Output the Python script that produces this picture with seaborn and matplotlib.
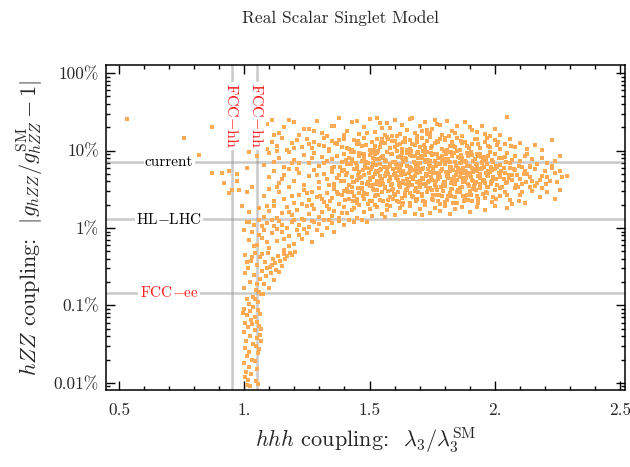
import matplotlib
matplotlib.use("Agg")
import matplotlib.pyplot as plt
import matplotlib.ticker as mticker
import seaborn as sns
import pandas as pd

# ---------------- data (x = lambda3/lambda3_SM, y = |g/g_SM - 1| in percent) ----------------
outliers = [(0.53,25.5),(0.76,14.6),(0.87,20.3),(0.82,8.7),(0.87,5.2),(0.91,5.2),(0.94,5.4),
            (0.97,5.0),(0.92,3.8),(0.97,4.1),(0.95,3.1),(0.94,2.8),(0.98,3.1),(1.01,2.9),
            (0.99,1.9),(1.02,1.6),(1.02,1.2),(1.0,0.94),(1.03,3.4),(1.01,6.0),(1.02,9.5)]

band_a = [(1.09,22),(1.14,17),(1.18,25),(1.22,16),(1.26,19),(1.29,24),(1.33,15.5),(1.36,21),(1.38,26),(1.41,18),
          (1.43,23),(1.46,16.5),(1.48,20),(1.50,25.5),(1.52,17.5),(1.54,22.5),(1.56,15.8),(1.58,19.5),(1.60,24.5),(1.62,16.2),
          (1.63,21.5),(1.65,18.5),(1.67,26.5),(1.69,15.3),(1.70,20.5),(1.72,23.5),(1.74,17),(1.75,19),(1.77,22),(1.79,16),
          (1.81,24),(1.83,18),(1.85,21),(1.87,15.6),(1.90,20),(1.93,17.2),(1.96,16.4),(2.00,19),(2.05,27),
          (1.12,15.9),(1.24,18.8),(1.31,16.7),(1.45,23.8),(1.55,19.7),(1.61,15.4),(1.66,25.2),(1.71,17.8),(1.78,21.2),
          (1.84,16.6),(1.91,18.2),(1.98,15.2),(1.35,20.8),(1.49,16.9),(1.57,22.8),(1.73,18.4),
          (1.06,17.5),(1.11,25),(1.16,20),(1.20,23),(1.28,18),(1.40,16),(1.53,26),(1.68,16.8),(1.76,25),(1.88,23),
          (1.95,21),(2.02,16)]

band_b = [(1.04,12),(1.07,14),(1.09,10.5),(1.11,13),(1.13,11.5),(1.15,14.5),(1.17,10.2),(1.19,12.5),(1.21,13.8),(1.23,11),
          (1.25,14.2),(1.27,10.8),(1.28,12.8),(1.30,11.8),(1.32,14.7),(1.34,10.4),(1.35,13.3),(1.37,12.1),(1.39,11.2),(1.40,14),
          (1.42,10.6),(1.44,13.6),(1.45,12.3),(1.47,11.4),(1.48,14.4),(1.50,10.1),(1.51,12.9),(1.53,13.9),(1.54,11.1),(1.56,12.6),
          (1.57,14.8),(1.58,10.7),(1.60,13.1),(1.61,11.7),(1.62,12.2),(1.64,14.3),(1.65,10.3),(1.66,13.5),(1.68,11.9),(1.69,12.7),
          (1.71,14.6),(1.72,10.9),(1.73,13.2),(1.75,11.3),(1.76,12.4),(1.78,14.1),(1.79,10.5),(1.80,13.7),(1.82,11.6),(1.83,12.8),
          (1.85,14.5),(1.86,10.2),(1.88,13),(1.89,11.5),(1.91,12.1),(1.93,14.2),(1.94,10.8),(1.96,12.9),(1.98,11.2),(2.00,13.6),
          (2.02,10.4),(2.04,12.3),(2.06,14),(2.08,11),(2.10,12.6),(2.13,10.6),(2.16,11.8),(2.19,10.3),(2.23,13.7),
          (1.52,11.5),(1.59,13.4),(1.63,10.6),(1.67,12),(1.74,14.9),(1.81,10.1),(1.87,12.5),(1.92,13.9),(1.70,11.1),(1.77,13.1),
          (1.46,12),(1.55,14.1),(1.64,12.9),(1.84,11),(1.97,14.6),(2.01,11.8),(1.43,10.2),(1.38,13.6),(1.26,12.2),(1.20,10.7)]

band_c = [(1.05,8.5),(1.08,6.5),(1.10,9.2),(1.12,7.2),(1.14,8),(1.16,6.2),(1.18,9.6),(1.20,7.6),(1.22,6.8),(1.24,8.8),
          (1.26,7),(1.28,9.4),(1.30,6.4),(1.31,8.2),(1.33,7.4),(1.34,9.8),(1.36,6.1),(1.37,8.6),(1.39,7.1),(1.40,9),
          (1.41,6.6),(1.42,8.1),(1.43,7.8),(1.44,9.5),(1.45,6.3),(1.46,8.4),(1.47,7.3),(1.48,9.1),(1.49,6.9),(1.50,8.7),
          (1.51,6.2),(1.52,7.7),(1.53,9.3),(1.54,6.7),(1.55,8.3),(1.56,7.5),(1.57,9.7),(1.58,6.4),(1.59,8.9),(1.60,7.2),
          (1.61,9.9),(1.62,6.5),(1.63,8.1),(1.64,7.9),(1.65,9.4),(1.66,6.1),(1.67,8.5),(1.68,7.0),(1.69,9.2),(1.70,6.8),
          (1.71,8.2),(1.72,7.6),(1.73,9.6),(1.74,6.3),(1.75,8.8),(1.76,7.3),(1.77,9),(1.78,6.6),(1.79,8.4),(1.80,7.7),
          (1.81,9.5),(1.82,6.2),(1.83,8.6),(1.84,7.1),(1.85,9.8),(1.86,6.9),(1.87,8),(1.88,7.4),(1.89,9.3),(1.90,6.4),
          (1.91,8.7),(1.92,7.8),(1.93,6.1),(1.94,9.1),(1.95,7.2),(1.96,8.3),(1.97,6.7),(1.98,9.6),(1.99,7.5),(2.00,8.9),
          (2.02,6.5),(2.03,7.9),(2.05,9.2),(2.06,6.9),(2.08,8.4),(2.10,7.3),(2.11,6.2),(2.13,9),(2.15,7.7),(2.17,6.6),
          (2.19,8.1),(2.21,7),(2.23,6.4),(2.24,7.4),(2.26,8.6),
          (1.405,7.6),(1.425,9.7),(1.445,6.8),(1.465,8.9),(1.485,7.1),(1.505,9.4),(1.525,6.5),(1.545,8),(1.565,7.3),(1.585,9.1),
          (1.605,6.7),(1.625,8.6),(1.645,7.5),(1.665,9.8),(1.685,6.3),(1.705,8.4),(1.725,7.1),(1.745,9.3),(1.765,6.8),(1.785,8.1),
          (1.805,7.4),(1.825,9.6),(1.845,6.4),(1.865,8.8),(1.885,7.2),(1.905,9.5),(1.925,6.6),(1.945,8.2),(1.965,7.6),(1.985,6.2),
          (1.515,7.9),(1.575,6.1),(1.635,7.1),(1.695,8.0),(1.755,6.2),(1.815,7.8),(1.875,6.0),(1.935,8.5),(1.535,9.9),(1.715,9.9),
          (1.32,6.9),(1.27,8.1),(1.19,6.9),(1.35,7.8),(1.13,9.8),(2.07,7.6),(2.12,8.5),(2.01,6.1),(2.04,8.2),(2.14,6.3)]

band_d = [(1.10,4.5),(1.12,5.5),(1.14,3.8),(1.16,4.9),(1.18,5.8),(1.20,4.1),(1.22,5.2),(1.24,3.6),(1.26,4.7),(1.28,5.6),
          (1.30,3.9),(1.32,5),(1.33,4.3),(1.35,5.9),(1.36,3.7),(1.38,4.8),(1.39,5.4),(1.40,4.0),(1.41,5.1),(1.42,3.55),
          (1.43,4.6),(1.44,5.7),(1.45,4.2),(1.46,5.3),(1.47,3.8),(1.48,4.9),(1.49,5.9),(1.50,4.4),(1.51,3.6),(1.52,5.0),
          (1.53,4.1),(1.54,5.6),(1.55,3.9),(1.56,4.7),(1.57,5.4),(1.58,4.3),(1.59,3.7),(1.60,5.2),(1.61,4.5),(1.62,5.8),
          (1.63,3.85),(1.64,4.95),(1.65,4.25),(1.66,5.5),(1.67,3.6),(1.68,4.65),(1.69,5.15),(1.70,4.05),(1.71,5.75),(1.72,3.75),
          (1.73,4.85),(1.74,5.35),(1.75,4.15),(1.76,3.55),(1.77,5.05),(1.78,4.55),(1.79,5.85),(1.80,3.95),(1.81,4.75),(1.82,5.45),
          (1.83,4.35),(1.84,3.65),(1.85,5.25),(1.86,4.6),(1.87,5.65),(1.88,3.9),(1.89,4.8),(1.90,5.1),(1.91,4.2),(1.92,3.7),
          (1.93,5.5),(1.94,4.4),(1.95,5.9),(1.96,3.8),(1.97,4.9),(1.98,5.3),(1.99,4.1),(2.00,5.7),(2.01,3.6),(2.02,4.6),
          (2.04,5.2),(2.05,3.9),(2.07,4.8),(2.08,5.6),(2.10,4.3),(2.11,3.7),(2.13,5),(2.14,4.5),(2.16,5.8),(2.17,3.8),
          (2.19,4.7),(2.20,5.4),(2.22,4.1),(2.24,5.1),(2.25,3.9),(2.27,4.6),(2.29,4.7),(2.23,5.9),(2.18,4.2),(2.12,5.5),
          (1.455,4.85),(1.475,5.55),(1.495,3.95),(1.515,4.6),(1.535,5.3),(1.555,3.65),(1.575,4.95),(1.595,5.75),(1.615,4.15),(1.635,5.4),
          (1.655,3.8),(1.675,4.45),(1.695,5.6),(1.715,4.3),(1.735,3.9),(1.755,5.2),(1.775,4.7),(1.795,3.6),(1.815,5.0),(1.835,4.1),
          (1.855,5.7),(1.875,4.4),(1.895,3.75),(1.915,5.3),(1.935,4.65),(1.955,4.0),(1.975,5.45),(1.995,4.5),(2.015,5.1),(2.035,4.25),
          (1.505,5.85),(1.545,4.35),(1.585,3.55),(1.625,4.8),(1.665,5.9),(1.705,3.7),(1.745,4.6),(1.785,5.5),(1.825,3.85),(1.865,5.05),
          (1.905,4.55),(1.945,5.8),(1.985,3.7),(2.025,5.5),(2.055,4.4),(2.085,3.6),(1.525,3.75),(1.565,5.15),(1.605,4.75),(1.645,3.7),
          (1.685,5.05),(1.725,4.95),(1.765,4.05),(1.805,5.3),(1.845,4.85),(1.885,5.35),(1.925,3.95),(1.965,5.1),(1.37,4.4),(1.29,4.9),
          (1.21,5.7),(1.15,4.3),(1.34,3.6),(1.40,5.6),(1.44,3.9),(2.06,5.9),(2.09,4.9),(2.15,4.0),(2.21,4.5),(2.26,5.4)]

band_e = [(1.08,2.6),(1.10,3.2),(1.12,2.2),(1.14,2.9),(1.16,2.4),(1.18,3.4),(1.20,2.1),(1.22,2.7),(1.24,3.1),(1.26,2.3),
          (1.27,2.95),(1.29,2.5),(1.30,3.3),(1.32,2.15),(1.33,2.8),(1.35,2.45),(1.36,3.15),(1.38,2.05),(1.39,2.65),(1.40,3.0),
          (1.42,2.35),(1.43,3.35),(1.44,2.55),(1.45,2.1),(1.46,2.85),(1.47,3.2),(1.48,2.4),(1.49,2.75),(1.50,3.45),(1.51,2.2),
          (1.52,2.6),(1.53,3.05),(1.54,2.3),(1.55,2.9),(1.56,3.3),(1.57,2.0),(1.58,2.5),(1.59,3.1),(1.60,2.7),(1.61,2.25),
          (1.62,3.4),(1.63,2.45),(1.64,2.85),(1.65,3.15),(1.66,2.1),(1.67,2.6),(1.68,3.0),(1.69,2.35),(1.70,3.35),(1.71,2.75),
          (1.72,2.15),(1.73,2.95),(1.74,3.25),(1.75,2.4),(1.76,2.65),(1.77,3.05),(1.78,2.05),(1.79,2.55),(1.80,3.45),(1.81,2.3),
          (1.82,2.8),(1.83,3.2),(1.84,2.5),(1.85,2.1),(1.86,2.9),(1.87,3.35),(1.88,2.4),(1.89,2.7),(1.90,3.0),(1.91,2.2),
          (1.93,2.6),(1.94,3.3),(1.96,2.45),(1.97,2.85),(1.99,2.15),(2.00,3.1),(2.02,2.55),(2.04,2.95),(2.06,2.3),(2.08,3.25),
          (2.10,2.65),(2.12,2.1),(2.15,3.0),(2.18,2.5),(2.21,2.9),(2.24,2.4),(2.14,3.4),(2.19,3.3),
          (1.415,2.9),(1.435,2.2),(1.455,3.3),(1.475,2.55),(1.495,2.05),(1.515,3.2),(1.535,2.7),(1.555,2.2),(1.575,3.0),(1.595,2.4),
          (1.615,2.9),(1.635,2.1),(1.655,3.45),(1.675,2.5),(1.695,2.9),(1.715,2.25),(1.735,3.15),(1.755,2.65),(1.775,2.25),(1.795,3.0),
          (1.815,2.6),(1.835,2.1),(1.855,3.1),(1.875,2.6),(1.895,2.3),(1.915,3.2),(1.935,2.1),(1.955,2.75),(1.975,3.35),(1.995,2.5),
          (1.37,2.9),(1.31,2.35),(1.25,2.8),(1.19,2.55),(1.13,3.4),(1.23,2.05),(2.03,3.4),(2.07,2.05),(2.11,2.95),(2.26,3.1)]

core_extra = [(1.432,7.4),(1.457,9.3),(1.478,8.1),(1.493,7.0),(1.521,9.0),(1.538,7.7),(1.553,8.6),(1.571,9.6),(1.594,7.2),(1.612,8.3),
              (1.628,9.2),(1.647,7.8),(1.663,8.8),(1.676,7.1),(1.692,9.5),(1.708,7.9),(1.723,8.7),(1.741,7.3),(1.758,9.1),(1.772,8.0),
              (1.791,7.5),(1.807,8.9),(1.822,7.2),(1.839,9.4),(1.853,8.2),(1.871,7.6),(1.893,8.5),(1.912,7.3),(1.931,9.0),(1.952,7.9),
              (1.973,8.6),(1.994,7.1),(2.017,8.0),(2.043,7.2),(1.683,8.4),(1.732,7.6),(1.797,9.8),(1.862,8.0),
              (1.352,5.3),(1.381,6.2),(1.408,4.8),(1.427,6.6),(1.451,5.7),(1.468,4.6),(1.483,6.4),(1.497,5.1),(1.512,6.8),(1.527,5.5),
              (1.541,4.7),(1.556,6.1),(1.569,5.2),(1.583,6.7),(1.597,4.9),(1.611,5.9),(1.624,6.5),(1.637,5.0),(1.651,6.3),(1.664,4.6),
              (1.677,5.6),(1.689,6.9),(1.702,5.3),(1.714,6.0),(1.727,4.7),(1.739,6.6),(1.752,5.5),(1.764,6.3),(1.777,4.9),(1.789,5.8),
              (1.802,6.7),(1.814,5.1),(1.827,6.2),(1.839,4.6),(1.852,5.9),(1.864,6.8),(1.877,5.2),(1.889,6.4),(1.902,4.8),(1.916,5.7),
              (1.929,6.5),(1.943,5.0),(1.958,6.1),(1.972,4.7),(1.988,5.6),(2.003,6.3),(2.021,5.2),(2.038,6.0),(2.057,4.9),(2.078,5.7),
              (2.096,6.4),(2.118,5.0),(2.139,6.1),(1.547,5.8),(1.618,5.4),(1.693,6.2),(1.761,5.1),(1.833,5.6),(1.908,6.0),(1.982,5.3),
              (1.583,4.6),(1.657,5.1),(1.733,5.7),(1.808,4.7),(1.883,5.5),(1.951,6.9),
              (1.358,3.4),(1.387,4.1),(1.412,3.2),(1.436,3.9),(1.459,4.4),(1.472,3.3),(1.488,3.7),(1.503,4.2),(1.519,3.1),(1.532,3.8),
              (1.548,4.3),(1.561,3.4),(1.577,4.0),(1.592,3.2),(1.606,4.4),(1.619,3.6),(1.633,4.1),(1.646,3.1),(1.659,3.9),(1.672,4.3),
              (1.686,3.3),(1.698,3.8),(1.711,4.4),(1.724,3.5),(1.737,4.0),(1.749,3.1),(1.762,3.7),(1.774,4.3),(1.787,3.4),(1.799,3.9),
              (1.812,4.4),(1.824,3.2),(1.837,3.7),(1.849,4.2),(1.862,3.3),(1.874,3.9),(1.887,4.4),(1.899,3.5),(1.913,4.0),(1.927,3.1),
              (1.941,3.7),(1.956,4.2),(1.971,3.4),(1.987,3.9),(2.004,4.3),(2.022,3.3),(2.043,3.8),(2.067,4.2),(2.092,3.4),(2.123,3.9),
              (2.161,3.5),(2.203,3.7),(1.541,3.55),(1.616,3.85),(1.689,3.95),(1.767,3.35),(1.841,3.95),(1.917,3.45),
              (1.302,2.6),(1.343,2.2),(1.376,2.75),(1.404,2.3),(1.431,2.95),(1.452,2.4),(1.479,2.8),(1.501,2.25),(1.526,2.65),(1.549,2.95),
              (1.572,2.3),(1.596,2.75),(1.618,2.15),(1.641,2.55),(1.663,2.85),(1.686,2.2),(1.709,2.6),(1.731,2.9),(1.754,2.3),(1.778,2.7),
              (1.801,2.15),(1.826,2.55),(1.851,2.9),(1.877,2.25),(1.904,2.65),(1.933,2.4),(1.966,2.95),(2.004,2.35),(2.047,2.7),(2.098,2.2),
              (1.318,11.3),(1.363,12.6),(1.412,10.9),(1.453,13.4),(1.487,11.7),(1.518,10.3),(1.546,12.4),(1.573,14.2),(1.603,11.1),(1.632,12.9),
              (1.661,10.6),(1.688,13.8),(1.717,11.9),(1.746,10.7),(1.773,12.7),(1.802,14.4),(1.834,11.4),(1.866,13.3),(1.897,10.8),(1.935,12.3),
              (1.972,11.6),(2.012,12.9),(2.063,11.3),(1.591,15.6),(1.729,16.1),(1.817,15.3)]

band_f = [(1.06,1.8),(1.08,1.4),(1.10,1.65),(1.12,1.95),(1.13,1.35),(1.15,1.55),(1.17,1.85),(1.19,1.45),(1.21,1.7),(1.23,1.3),
          (1.25,1.9),(1.26,1.5),(1.28,1.75),(1.30,1.38),(1.31,1.62),(1.33,1.92),(1.35,1.42),(1.36,1.68),(1.38,1.33),(1.40,1.85),
          (1.41,1.55),(1.43,1.72),(1.45,1.36),(1.46,1.97),(1.48,1.6),(1.50,1.78),(1.51,1.44),(1.53,1.88),(1.55,1.52),(1.57,1.7),
          (1.58,1.95),(1.60,1.48),(1.62,1.82),(1.64,1.6),(1.66,1.9),(1.68,1.5),(1.70,1.75),(1.72,1.98),(1.74,1.55),(1.76,1.8),
          (1.78,1.65),(1.80,1.93),(1.82,1.52),(1.84,1.76),(1.87,1.88),(1.90,1.6),(1.93,1.85),(1.96,1.7),(2.0,1.95),(2.05,1.8),
          (1.56,1.4),(1.63,1.96),(1.71,1.45),(1.52,1.98),(1.44,1.8),(1.39,1.58),(1.18,1.6),(1.09,1.9),(1.27,1.98),(1.34,1.75)]

band_g = [(1.01,1.2),(1.03,0.9),(1.04,1.1),(1.05,0.6),(1.06,1.25),(1.07,0.75),(1.08,0.95),(1.09,1.15),(1.10,0.55),(1.11,0.85),
          (1.12,1.05),(1.13,0.68),(1.14,1.22),(1.15,0.9),(1.16,0.52),(1.17,1.0),(1.18,0.78),(1.19,1.18),(1.20,0.62),(1.21,0.95),
          (1.22,1.1),(1.23,0.72),(1.24,1.27),(1.25,0.85),(1.26,1.02),(1.27,0.66),(1.28,1.2),(1.29,0.93),(1.30,1.12),(1.31,0.8),
          (1.32,1.25),(1.33,1.0),(1.35,1.15),(1.36,0.88),(1.38,1.22),(1.40,1.08),(1.42,1.28),(1.44,1.18),(1.47,1.26),(1.49,1.2),
          (1.02,0.7),(1.06,0.82),(1.09,0.65),(1.13,0.98),(1.18,0.58),(1.24,0.96),(1.34,1.28),(1.27,1.24),(1.20,1.28),(1.15,1.1),
          (1.11,1.28),(1.07,1.05),(1.04,0.58),(1.16,0.72),(1.22,0.8)]

funnel = [(1.003,0.45),(1.014,0.3),(1.022,0.2),(1.027,0.38),(1.033,0.13),(1.038,0.25),(1.041,0.47),(1.046,0.16),(1.052,0.33),(1.055,0.11),
          (1.061,0.22),(1.064,0.42),(1.072,0.28),(1.068,0.14),(1.083,0.36),(1.079,0.19),(1.094,0.48),(1.088,0.24),(1.103,0.31),(1.097,0.17),
          (1.114,0.4),(1.108,0.26),(1.124,0.35),(1.117,0.21),(1.133,0.44),(1.128,0.29),(1.142,0.38),(1.151,0.32),(1.157,0.46),(1.163,0.4),
          (1.172,0.43),(1.183,0.48),(1.192,0.45),(1.204,0.49),(1.011,0.12),(0.998,0.17),(1.019,0.105),(1.043,0.12),(1.058,0.15),(1.031,0.42),
          (1.076,0.14),(1.049,0.19),(1.002,0.26),(1.009,0.36),(1.071,0.46),(1.091,0.3),(1.111,0.33),(1.138,0.27)]

strip = [(0.998,0.09),(1.012,0.075),(1.024,0.085),(1.036,0.095),(1.041,0.07),(1.053,0.088),(1.061,0.078),(1.003,0.06),(1.016,0.052),(1.027,0.065),
         (1.031,0.058),(1.049,0.062),(1.057,0.055),(0.997,0.045),(1.021,0.04),(1.044,0.048),(1.063,0.042),(1.008,0.035),(1.034,0.032),(1.051,0.038),
         (1.002,0.028),(1.019,0.025),(1.046,0.03),(1.058,0.027),(1.011,0.022),(1.029,0.02),(1.054,0.024),(0.999,0.018),(1.017,0.016),(1.043,0.019),
         (1.006,0.014),(1.026,0.013),(1.052,0.015),(1.001,0.012),(1.014,0.011),(1.047,0.0105),(1.009,0.0095),(1.055,0.0098),(1.023,0.0092),
         (1.068,0.05),(1.065,0.035),(0.995,0.08)]

# reference lines
hline_values = [7.1, 1.3, 0.145]          # percent
hline_labels = ["current", r"HL$-$LHC", r"FCC$-$ee"]
hline_colors = ["black", "black", "#ff1a1a"]
vline_values = [0.95, 1.05]
vline_label = r"FCC$-$hh"

xtick_values = [0.5, 1.0, 1.5, 2.0, 2.5]
xtick_labels = ["0.5", "1.", "1.5", "2.", "2.5"]
ytick_values = [100, 10, 1, 0.1, 0.01]
ytick_labels = ["100%", "10%", "1%", "0.1%", "0.01%"]

# ---------------- style ----------------
sns.set_style("ticks")
plt.rcParams.update({
    "font.family": "serif",
    "font.serif": ["cmr10", "DejaVu Serif"],
    "mathtext.fontset": "cm",
    "axes.formatter.use_mathtext": True,
    "axes.unicode_minus": False,
})

pts = (outliers + band_a + band_b + band_c + band_d + band_e + core_extra
       + band_f + band_g + funnel + strip)
df = pd.DataFrame(pts, columns=["lam", "dg"])

fig = plt.figure(figsize=(6.3, 4.67), dpi=100)
ax = fig.add_axes([106/630, 1-390/467, 519/630, 325/467])

ax.set_yscale("log")
ax.set_xlim(0.448, 2.52)
ax.set_ylim(0.0081, 127)

line_kw = dict(color="gray", alpha=0.42, lw=1.8, zorder=1)
for v in hline_values:
    ax.axhline(v, **line_kw)
for v in vline_values:
    ax.axvline(v, **line_kw)

sns.scatterplot(data=df, x="lam", y="dg", ax=ax, marker="s", s=7,
                color="#ffaa55", linewidth=0, zorder=2, legend=False)

for v, lab, c in zip(hline_values, hline_labels, hline_colors):
    ax.text(0.70, v, lab, color=c, fontsize=11, ha="center", va="center", zorder=3,
            bbox=dict(facecolor="white", edgecolor="none", pad=1.0))
for v in vline_values:
    ax.text(v, 28, vline_label, color="#ff1a1a", fontsize=11.5, rotation=-90,
            ha="center", va="center", zorder=3,
            bbox=dict(facecolor="white", edgecolor="none", pad=1.0))

ax.xaxis.set_major_locator(mticker.FixedLocator(xtick_values))
ax.set_xticklabels(xtick_labels)
ax.xaxis.set_minor_locator(mticker.MultipleLocator(0.1))
ax.yaxis.set_major_locator(mticker.FixedLocator(ytick_values))
ax.set_yticklabels(ytick_labels)
ax.yaxis.set_minor_locator(mticker.LogLocator(base=10, subs=range(2, 10), numticks=20))
ax.yaxis.set_minor_formatter(mticker.NullFormatter())

ax.tick_params(which="both", direction="in", top=True, right=True, color="black", width=1.0)
ax.tick_params(which="major", length=6.5, labelsize=12.5)
ax.tick_params(axis="x", which="major", pad=9)
ax.tick_params(axis="y", which="major", pad=5)
ax.tick_params(which="minor", length=3)
for sp in ax.spines.values():
    sp.set_visible(True)
    sp.set_color("black")
    sp.set_linewidth(1.1)

ax.set_xlabel(r"$hhh$ coupling:  $\lambda_3/\lambda_3^{\rm SM}$", fontsize=16)
ax.set_ylabel(r"$hZZ$ coupling:  $|g_{hZZ}/g_{hZZ}^{\rm SM} - 1|$", fontsize=16)
ax.xaxis.set_label_coords(0.5, -(441-390)/325)
ax.xaxis.label.set_va("center")
ax.yaxis.set_label_coords(-(106-30)/519, 0.5)
ax.yaxis.label.set_va("center")

fig.text(341/630, 1-18/467, "Real Scalar Singlet Model", fontsize=12.5, ha="center", va="center")

fig.savefig("out.png", dpi=100)
